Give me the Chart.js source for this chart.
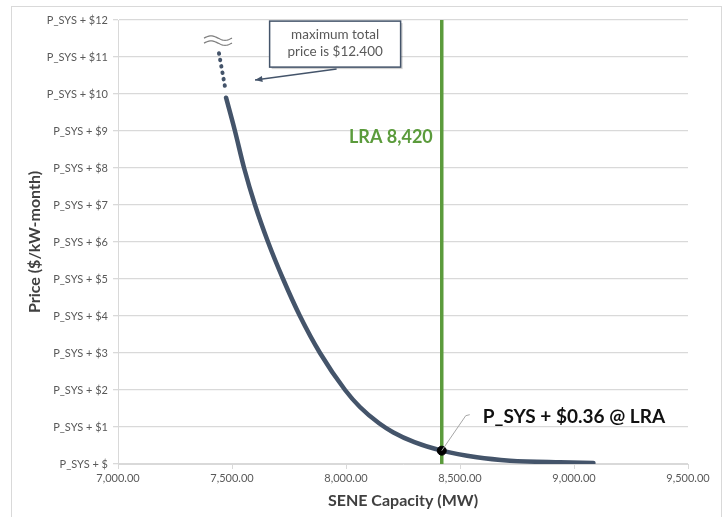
<!DOCTYPE html>
<html lang="en">
<head>
  <meta charset="UTF-8" />
  <title>SENE Capacity Demand Curve</title>
  <script src="https://cdn.jsdelivr.net/npm/chart.js@4.4.1/dist/chart.umd.min.js"></script>
  <style>
    body {
      margin: 0;
      padding: 0;
      background: #ffffff;
      font-family: Lato, 'Open Sans', sans-serif;
    }
    .wrap {
      position: relative;
      width: 726px;
      height: 517px;
      overflow: hidden;
    }
    .frame {
      position: absolute;
      left: 11px;
      top: 6px;
      width: 709px;
      height: 530px;
      border: 1px solid #d9d9d9;
    }
    canvas {
      position: absolute;
      left: 0;
      top: 0;
    }
  </style>
</head>
<body>
  <div class="wrap">
    <div class="frame"></div>
    <canvas id="chart" width="726" height="517"></canvas>
  </div>

<script>
  // demand curve (MW, $ above P_SYS)
  const capacityMW = [7474, 7513, 7553, 7601, 7658, 7724, 7798, 7886, 7996, 8061, 8145, 8206, 8300, 8420, 8574, 8719, 8939, 9085];
  const priceAdder = [9.9, 9.0, 8.0, 7.0, 6.0, 5.0, 4.0, 3.0, 2.0, 1.54, 1.1, 0.86, 0.59, 0.36, 0.18, 0.09, 0.045, 0.03];

  // dotted continuation up to the cap
  const capMW = [7443, 7472];
  const capPrice = [11.1, 10.1];

  // local resource adequacy requirement
  const lraMW = 8420;
  const lraPrice = 0.36;
  const maxPrice = 12.4;

  const xTicks = [7000, 7500, 8000, 8500, 9000, 9500];
  const xTickLabels = ['7,000.00', '7,500.00', '8,000.00', '8,500.00', '9,000.00', '9,500.00'];
  const yTicks = [0, 1, 2, 3, 4, 5, 6, 7, 8, 9, 10, 11, 12];
  const yTickLabels = ['P_SYS + $', 'P_SYS + $1', 'P_SYS + $2', 'P_SYS + $3', 'P_SYS + $4', 'P_SYS + $5',
    'P_SYS + $6', 'P_SYS + $7', 'P_SYS + $8', 'P_SYS + $9', 'P_SYS + $10', 'P_SYS + $11', 'P_SYS + $12'];

  const FONT = "Lato, 'Open Sans', sans-serif";
  const SLATE = '#44546a';
  const GREEN = '#5b9b3c';

  const curve = capacityMW.map((x, i) => ({ x: x, y: priceAdder[i] }));
  const capLine = capMW.map((x, i) => ({ x: x, y: capPrice[i] }));

  // text and callouts drawn on top of the chart
  const notes = {
    id: 'notes',
    afterDatasetsDraw(chart) {
      const ctx = chart.ctx;
      const xs = chart.scales.x;
      const ys = chart.scales.y;
      const px = xs.getPixelForValue(lraMW);
      const py = ys.getPixelForValue(lraPrice);

      ctx.save();

      // LRA label
      ctx.fillStyle = GREEN;
      ctx.font = 'bold 18px ' + FONT;
      ctx.textAlign = 'right';
      ctx.textBaseline = 'middle';
      ctx.fillText('LRA 8,420', px - 9, ys.getPixelForValue(8.84));

      // leader to the price at LRA
      ctx.strokeStyle = '#a6a6a6';
      ctx.lineWidth = 1;
      ctx.beginPath();
      ctx.moveTo(px, py);
      ctx.lineTo(px + 24, py - 35);
      ctx.lineTo(px + 28, py - 36);
      ctx.stroke();
      ctx.fillStyle = '#111111';
      ctx.font = 'bold 19px ' + FONT;
      ctx.textAlign = 'left';
      ctx.fillText('P_SYS + $' + lraPrice.toFixed(2) + ' @ LRA', px + 41, py - 34);

      // break symbol at top of the curve
      const wx = xs.getPixelForValue(capMW[0]) - 15;
      const wy = ys.getPixelForValue(11.43);
      ctx.strokeStyle = '#7f7f7f';
      ctx.lineWidth = 1.2;
      for (let k = 0; k < 2; k++) {
        ctx.beginPath();
        for (let t = 0; t <= 28; t++) {
          const yy = wy - 3 + k * 5 - Math.sin((t / 28) * Math.PI * 2) * 2.2;
          if (t === 0) ctx.moveTo(wx + t, yy); else ctx.lineTo(wx + t, yy);
        }
        ctx.stroke();
      }

      // callout box
      const bx = xs.getPixelForValue(7665);
      const by = ys.getPixelForValue(11.97);
      const bw = 131, bh = 46;
      ctx.fillStyle = 'rgba(0,0,0,0.18)';
      ctx.fillRect(bx + 2, by + 2, bw, bh);
      ctx.fillStyle = '#ffffff';
      ctx.fillRect(bx, by, bw, bh);
      ctx.strokeStyle = SLATE;
      ctx.lineWidth = 1.5;
      ctx.strokeRect(bx, by, bw, bh);
      ctx.fillStyle = '#595959';
      ctx.font = '13.5px ' + FONT;
      ctx.textAlign = 'center';
      ctx.fillText('maximum total', bx + bw / 2, by + 14);
      ctx.fillText('price is $' + maxPrice.toFixed(3), bx + bw / 2, by + 31);

      // arrow from box to the dotted segment
      const ax0 = bx + 67, ay0 = by + bh + 2;
      const ax1 = xs.getPixelForValue(7601), ay1 = ys.getPixelForValue(10.38);
      ctx.strokeStyle = SLATE;
      ctx.lineWidth = 1.5;
      ctx.beginPath();
      ctx.moveTo(ax0, ay0);
      ctx.lineTo(ax1, ay1);
      ctx.stroke();
      const ang = Math.atan2(ay1 - ay0, ax1 - ax0);
      ctx.fillStyle = SLATE;
      ctx.beginPath();
      ctx.moveTo(ax1, ay1);
      ctx.lineTo(ax1 - 8 * Math.cos(ang - 0.4), ay1 - 8 * Math.sin(ang - 0.4));
      ctx.lineTo(ax1 - 8 * Math.cos(ang + 0.4), ay1 - 8 * Math.sin(ang + 0.4));
      ctx.closePath();
      ctx.fill();

      ctx.restore();
    }
  };

  new Chart(document.getElementById('chart'), {
    type: 'scatter',
    data: {
      datasets: [
        {
          label: 'LRA',
          data: [{ x: lraMW, y: 0 }, { x: lraMW, y: 12 }],
          showLine: true,
          borderColor: GREEN,
          borderWidth: 3.5,
          pointRadius: 0,
          order: 3
        },
        {
          label: 'Demand curve',
          data: curve,
          showLine: true,
          borderColor: SLATE,
          borderWidth: 4.5,
          borderCapStyle: 'round',
          cubicInterpolationMode: 'monotone',
          pointRadius: 0,
          order: 2
        },
        {
          label: 'Cap',
          data: capLine,
          showLine: true,
          borderColor: SLATE,
          borderWidth: 4,
          borderCapStyle: 'round',
          borderDash: [0.5, 6],
          pointRadius: 0,
          order: 2
        },
        {
          label: 'Price at LRA',
          data: [{ x: lraMW, y: lraPrice }],
          backgroundColor: '#000000',
          borderColor: '#000000',
          pointRadius: 4.5,
          order: 1
        }
      ]
    },
    options: {
      responsive: false,
      animation: false,
      layout: { padding: { left: 10, top: 20, right: 38, bottom: 0 } },
      plugins: {
        legend: { display: false },
        tooltip: { enabled: false }
      },
      scales: {
        x: {
          type: 'linear',
          min: 7000,
          max: 9500,
          afterFit(scale) { scale.height = 53; },
          afterBuildTicks(scale) { scale.ticks = xTicks.map(v => ({ value: v })); },
          ticks: {
            padding: 3,
            color: '#595959',
            font: { family: FONT, size: 11 },
            maxRotation: 0,
            callback: (v) => xTickLabels[xTicks.indexOf(v)]
          },
          grid: {
            drawOnChartArea: false,
            color: '#d9d9d9',
            tickLength: 5
          },
          border: { color: '#d9d9d9' },
          title: {
            display: true,
            text: 'SENE Capacity (MW)',
            color: '#404040',
            font: { family: FONT, size: 16, weight: 'bold' },
            padding: { top: 0, bottom: 7 }
          }
        },
        y: {
          type: 'linear',
          min: 0,
          max: 12,
          afterFit(scale) { scale.width = 108; },
          afterBuildTicks(scale) { scale.ticks = yTicks.map(v => ({ value: v })); },
          ticks: {
            padding: 5,
            color: '#595959',
            font: { family: FONT, size: 11 },
            callback: (v) => yTickLabels[yTicks.indexOf(v)]
          },
          grid: {
            color: '#d9d9d9',
            lineWidth: 1.3,
            tickLength: 5
          },
          border: { color: '#d9d9d9' },
          title: {
            display: true,
            text: 'Price ($/kW-month)',
            color: '#404040',
            font: { family: FONT, size: 16, weight: 'bold' },
            padding: { top: 15, bottom: 0 }
          }
        }
      }
    },
    plugins: [notes]
  });
</script>
</body>
</html>
